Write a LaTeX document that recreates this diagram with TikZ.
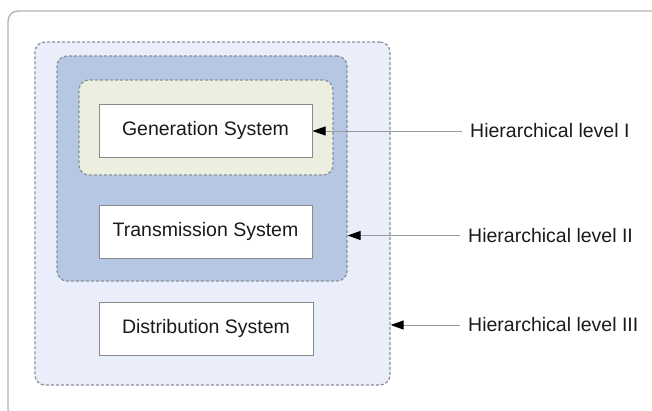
\documentclass[tikz,border=0pt]{standalone}
\usepackage{fontspec}
\setmainfont{Liberation Sans}
\usetikzlibrary{arrows.meta}
\definecolor{frameGrey}{HTML}{B4B4B4}
\definecolor{dashGrey}{HTML}{8A9099}
\definecolor{boxGrey}{HTML}{8A8A8A}
\definecolor{arrowGrey}{HTML}{9A9A9A}
\definecolor{paleBlue}{HTML}{E9EEFA}
\definecolor{midBlue}{HTML}{B5C7E3}
\definecolor{paleOlive}{HTML}{ECEEDF}
\definecolor{textDark}{HTML}{1A1A1A}
\tikzset{
  levelbox/.style={draw=dashGrey, line width=1.2pt, dash pattern=on 3pt off 2pt,
    rounded corners=10pt, inner sep=0pt},
  sysbox/.style={draw=boxGrey, line width=1pt, fill=white, inner sep=0pt, text=textDark,
    minimum width=213pt, minimum height=53pt, font=\fontsize{19.5}{23}\selectfont},
  levellabel/.style={anchor=west, inner xsep=8pt, inner ysep=0pt, text=textDark,
    font=\fontsize{19.5}{23}\selectfont},
  pointer/.style={draw=arrowGrey, line width=1pt,
    -{Triangle[length=13pt,width=9pt,color=black]}}
}
\begin{document}
\begin{tikzpicture}[x=1pt,y=-1pt]
  \useasboundingbox (0,0) rectangle (652,410);
  % outer frame, partly running off the page
  \begin{scope}
    \clip (0,0) rectangle (652,410);
    \draw[frameGrey, line width=1.4pt, rounded corners=10pt] (8,11) rectangle (670,420);
  \end{scope}

  % nested hierarchy regions
  \node[levelbox, fill=paleBlue, minimum width=355pt, minimum height=343pt] (lvlIII) at (212.5,213.5) {};
  \node[levelbox, fill=midBlue, minimum width=290pt, minimum height=225pt] (lvlII) at (202,168.5) {};
  \node[levelbox, fill=paleOlive, minimum width=254pt, minimum height=95pt] (lvlI) at (206,127.5) {};

  % subsystems
  \node[sysbox] (gen) at (205.5,130.5) {Generation System};
  \node[sysbox] (trans) at (205.5,231.5) {Transmission System};
  \node[sysbox, minimum width=214pt] (dist) at (206,328.5) {Distribution System};

  % level labels
  \node[levellabel] (labI) at (462,131) {Hierarchical level I};
  \node[levellabel] (labII) at (460,235.5) {Hierarchical level II};
  \node[levellabel] (labIII) at (460,325) {Hierarchical level III};

  % pointers
  \draw[pointer] (labI.west) -- (labI.west -| gen.east);
  \draw[pointer] (labII.west) -- (labII.west -| lvlII.east);
  \draw[pointer] (labIII.west) -- (labIII.west -| lvlIII.east);
\end{tikzpicture}
\end{document}
